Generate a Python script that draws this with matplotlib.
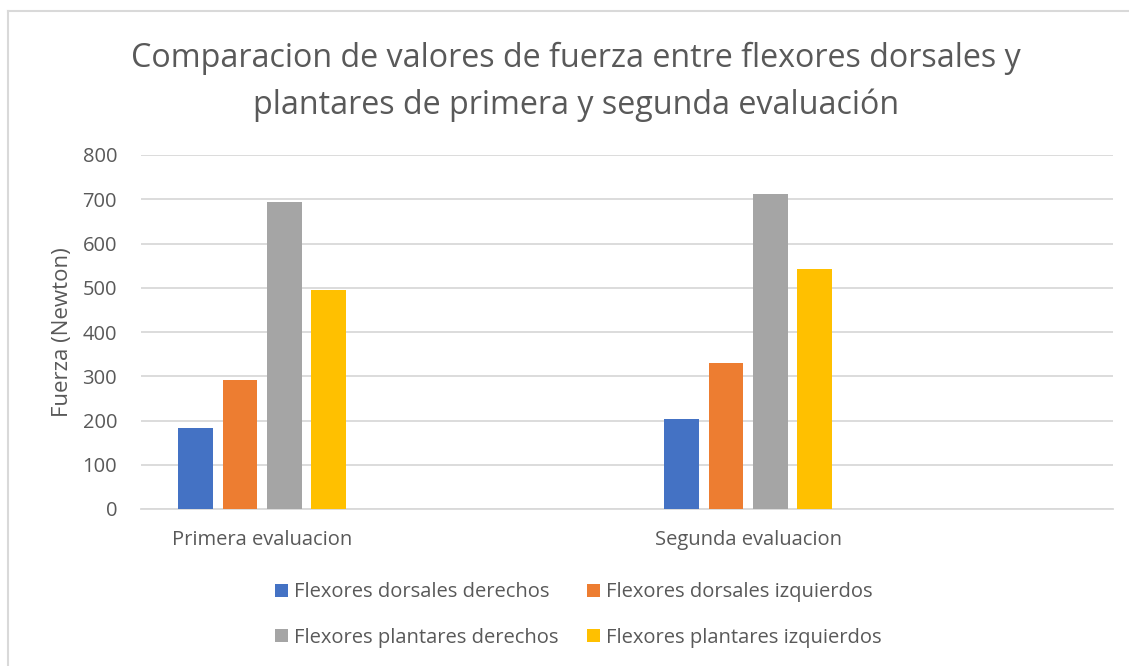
import matplotlib
matplotlib.use("Agg")
import matplotlib.pyplot as plt
from matplotlib.lines import Line2D
from matplotlib.patches import Patch
import numpy as np

categories = ["Primera evaluacion", "Segunda evaluacion"]
series_names = ["Flexores dorsales derechos", "Flexores dorsales izquierdos",
                "Flexores plantares derechos", "Flexores plantares izquierdos"]
dorsales_der = [184, 203]
dorsales_izq = [292, 329]
plantares_der = [694, 711]
plantares_izq = [494, 542]
yticks = [0, 100, 200, 300, 400, 500, 600, 700, 800]
colors = ["#4472C4", "#ED7D31", "#A5A5A5", "#FFC000"]

values = [dorsales_der, dorsales_izq, plantares_der, plantares_izq]

plt.rcParams['font.family'] = ['Open Sans', 'DejaVu Sans']
W, H = 1129, 666
fig = plt.figure(figsize=(W / 100, H / 100), dpi=100)
ax = fig.add_axes([140.7 / W, 1 - 509 / H, (1112.7 - 140.7) / W, (509 - 155) / H])

x = np.arange(len(categories))
width = 0.0714
pitch = 0.0912
for i, (vals, c) in enumerate(zip(values, colors)):
    ax.bar(x + (i - 1.5) * pitch, vals, width, color=c, zorder=3, label=series_names[i])

ax.set_xlim(-0.25, 1.75)
ax.set_ylim(0, 800)
ax.set_yticks(yticks)
ax.set_xticks(x)
ax.set_xticklabels(categories)
ax.tick_params(axis='both', length=0, colors='#595959', labelsize=14.5)
ax.tick_params(axis='y', pad=17)
ax.tick_params(axis='x', pad=15)
ax.grid(axis='y', color='#D9D9D9', linewidth=1.3, zorder=0)
for s in ['top', 'right', 'left']:
    ax.spines[s].set_visible(False)
ax.spines['bottom'].set_color('#D9D9D9')
ax.spines['bottom'].set_linewidth(1.3)
ax.set_ylabel("Fuerza (Newton)", color='#595959', fontsize=16, labelpad=7)

fig.text(576 / W, 1 - 82 / H,
         "Comparacion de valores de fuerza entre flexores dorsales y\nplantares de primera y segunda evaluación",
         ha='center', va='center', fontsize=23.2, color='#595959', linespacing=1.5)

# legend: row-wise order like the reference (blue, orange / gray, yellow)
order = [0, 2, 1, 3]
leg_handles = [Patch(facecolor=colors[i], edgecolor='none') for i in order]
leg_labels = [series_names[i] for i in order]
leg = fig.legend(leg_handles, leg_labels, loc='center', bbox_to_anchor=(578 / W, 1 - 615 / H),
                 ncol=2, frameon=False, fontsize=14.5, handlelength=0.65, handleheight=0.65,
                 handletextpad=0.3, columnspacing=1.4, labelspacing=1.25)
for t in leg.get_texts():
    t.set_color('#595959')

# chart border
fig.add_artist(Line2D([7.5 / W, 7.5 / W], [0, 1 - 10.5 / H], transform=fig.transFigure,
                      color='#D9D9D9', linewidth=1.5))
fig.add_artist(Line2D([7.5 / W, 1], [1 - 10.5 / H, 1 - 10.5 / H], transform=fig.transFigure,
                      color='#D9D9D9', linewidth=1.5))

fig.savefig("out.png", dpi=100)
